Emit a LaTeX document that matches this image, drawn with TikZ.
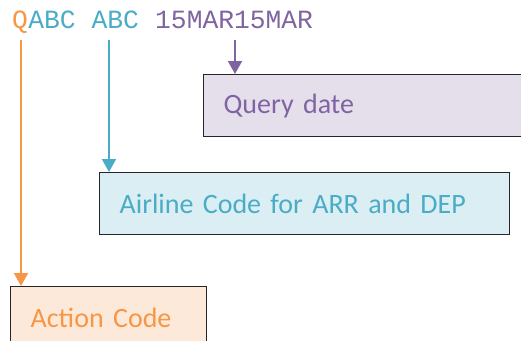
\documentclass[tikz,border=0pt]{standalone}
\usepackage{fontspec}
\usepackage{tikz}
\usetikzlibrary{arrows,arrows.meta,positioning}
\newfontfamily\boxfont{Carlito}
\newfontfamily\codefont{Liberation Mono}
\definecolor{qorange}{HTML}{F79646}
\definecolor{qblue}{HTML}{4BACC6}
\definecolor{qpurple}{HTML}{8064A2}
\definecolor{qorangel}{HTML}{FDE9D9}
\definecolor{qbluel}{HTML}{DAEEF3}
\definecolor{qpurplel}{HTML}{E5DFEC}
\definecolor{boxline}{HTML}{262626}
\tikzset{%
	code/.style    = {inner sep=0pt, anchor=base west, font=\codefont\fontsize{26.3}{30}\selectfont}, % Query string
	field/.style   = {draw=boxline, line width=1.3pt, rectangle, anchor=north west, minimum height=62pt, inner xsep=20pt, align=left, font=\boxfont\fontsize{28}{32}\selectfont}, % Meaning
	pointer/.style = {line width=2pt, -{Triangle[width=14pt,length=13pt]}},
}

\begin{document}
\begin{tikzpicture}[x=1pt,y=-1pt]
	\useasboundingbox (0,0) rectangle (521,340);
	\node[code,text=qorange] (q) at (12,28) {Q};
	\node[code,text=qblue] (abc) at (q.base east) {ABC ABC};
	\node[code,text=qpurple] (date) at (155,28) {15MAR15MAR};
	\node[field,fill=qpurplel,text=qpurple,text width=300pt] (qd) at (203,74) {Query date};
	\node[field,fill=qbluel,text=qblue,text width=370pt] (al) at (99,172) {Airline Code for ARR and DEP};
	\node[field,fill=qorangel,text=qorange,text width=156pt] (act) at (10,286) {Action Code};
	\coordinate (qpt) at (21,40);
	\coordinate (apt) at (109,40);
	\coordinate (dpt) at (235,40);
	\draw[pointer,qorange] (qpt) -- (qpt |- act.north);
	\draw[pointer,qblue] (apt) -- (apt |- al.north);
	\draw[pointer,qpurple] (dpt) -- (dpt |- qd.north);
\end{tikzpicture}
\end{document}
